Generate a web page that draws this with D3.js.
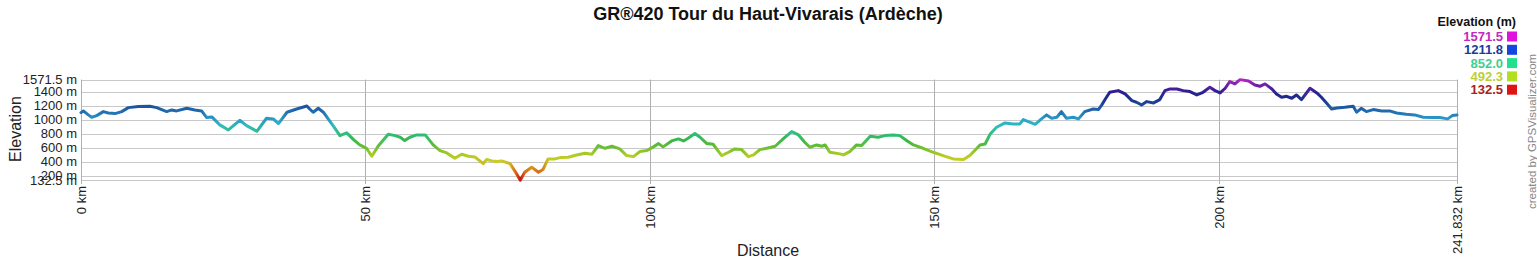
<!DOCTYPE html>
<html><head><meta charset="utf-8">
<script src="https://cdn.jsdelivr.net/npm/d3@7"></script>
<style>html,body{margin:0;padding:0;background:#fff;}svg{display:block;font-family:"Liberation Sans",Arial,sans-serif;}</style>
</head><body>
<script>
// ---- data ----
const titleText = "GR®420 Tour du Haut-Vivarais (Ardèche)";
const distanceKm = [0,0.41,1.29,1.87,2.75,3.93,4.8,5.98,7.15,8.32,10.07,12.13,13.3,15.06,15.94,16.8,18.6,20.0,21.2,22.1,23.0,24.4,25.9,27.9,29.1,30.9,32.6,33.8,34.7,36.2,37.9,39.7,40.2,40.8,41.7,42.6,44.3,45.5,46.7,47.9,49.0,50.2,51.1,52.2,54.0,55.2,56.1,56.9,57.8,59.0,60.5,
61.9,63.1,64.3,65.7,66.9,68.1,69.2,70.7,71.3,72.2,73.1,73.9,75.4,76.3,77.2,78.0,79.2,80.4,81.2,82.1,83.3,84.2,85.6,87.1,88.6,89.8,90.9,92.1,93.3,94.7,95.9,97.1,98.2,99.4,100.6,101.5,102.3,103.8,105.0,105.9,106.7,107.9,108.8,110.0,111.1,112.6,113.8,114.9,116.1,117.3,118.2,119.3,
120.5,122.0,123.4,124.9,126.1,127.2,128.1,129.3,130.2,130.8,131.6,133.4,134.0,135.1,136.3,137.2,138.7,140.1,141.3,142.8,143.9,145.1,146.3,148.0,149.8,151.5,153.3,155.1,156.2,158.0,158.9,159.8,160.9,162.4,163.8,165.0,165.6,166.5,167.7,168.8,169.7,170.6,171.5,172.3,173.2,174.4,175.3,176.4,177.9,178.8,179.4,
180.0,180.8,182.3,183.5,184.7,185.5,186.4,187.3,188.5,189.6,190.5,191.4,192.6,193.7,194.9,196.1,197.2,198.4,199.3,200.2,201.1,201.9,202.8,203.7,205.2,206.3,207.2,208.1,209.3,210.1,211.0,211.9,212.8,213.6,214.5,216.0,217.2,218.0,218.9,219.8,220.7,222.1,223.6,224.2,225.0,225.9,227.1,228.6,230.0,231.2,232.9,234.4,235.9,237.4,238.8,240.2,241.0,241.832];
const elevationM = [1100,1124,1067,1033,1057,1114,1095,1086,1114,1171,1186,1190,1171,1114,1138,1124,1162,1138,1124,1029,1038,924,852,990,914,833,1019,1010,943,1105,1152,1195,1152,1105,1162,1105,914,771,810,714,638,590,476,619,790,771,748,700,748,781,781,
638,557,524,448,505,476,467,371,429,410,400,410,371,257,133,248,319,248,286,438,438,457,462,495,519,505,629,590,619,581,486,471,543,557,610,657,610,695,724,695,733,800,748,657,648,486,533,581,571,471,495,571,
590,619,724,829,781,676,605,638,619,638,533,510,495,543,638,629,762,748,771,781,771,700,638,590,533,486,438,429,486,638,652,795,891,952,938,938,1000,971,933,1010,1067,1019,1033,1114,1019,1033,1010,1114,1152,1143,1210,
1290,1390,1414,1367,1271,1248,1210,1257,1238,1286,1414,1438,1438,1414,1400,1352,1390,1462,1414,1381,1448,1543,1510,1571,1552,1495,1476,1510,1438,1367,1319,1333,1305,1352,1286,1448,1381,1319,1238,1152,1167,1176,1190,1105,1162,1114,1143,1124,1124,1095,1076,1067,1033,1029,1029,1010,1057,1067];
const yTickValues = [132.5,200,400,600,800,1000,1200,1400,1571.5];
const yTickLabels = ["132.5 m","200 m","400 m","600 m","800 m","1000 m","1200 m","1400 m","1571.5 m"];
const xTickValues = [0,50,100,150,200,241.832];
const xTickLabels = ["0 km","50 km","100 km","150 km","200 km","241.832 km"];
const legendValues = [1571.5,1211.8,852.0,492.3,132.5];
const legendLabels = ["1571.5","1211.8","852.0","492.3","132.5"];

// ---- colour ramps (style) ----
const lineColorDomain = [132.5,250,400,492.3,600,700,800,900,1000,1100,1211.8,1300,1400,1500,1571.5];
const lineColorRange = ["#cc1111","#dd6a14","#cccc22","#b2cc22","#6cc030","#36b840","#2cbf80","#30c0bc","#2aa2cc","#2272b4","#1a4c9c","#1c2e8c","#2c1c92","#7422aa","#b624c4"];
const legendSwatch = ["#e012e0","#1446e0","#22e08e","#b2e020","#e01414"];
const legendText = ["#c02cc0","#1a3c9c","#3ecf92","#bccf36","#a82222"];

const W = 1537, H = 260;
const svg = d3.select("body").append("svg").attr("width", W).attr("height", H);

const x = d3.scaleLinear().domain([0, 241.832]).range([81, 1457]);
const y = d3.scaleLinear().domain([132.5, 1571.5]).range([180.3, 79.6]);
const col = d3.scaleLinear().domain(lineColorDomain).range(lineColorRange).interpolate(d3.interpolateRgb);

// title
svg.append("text").attr("x", 768).attr("y", 20).attr("text-anchor", "middle")
  .attr("font-size", 18).attr("font-weight", "bold").attr("fill", "#111").text(titleText);

// horizontal grid + y labels
const gy = svg.append("g");
gy.selectAll("line").data(yTickValues).join("line")
  .attr("x1", 81).attr("x2", 1457)
  .attr("y1", d => Math.round(y(d)) + 0.5).attr("y2", d => Math.round(y(d)) + 0.5)
  .attr("stroke", "#c8c8c8").attr("stroke-width", 1);
gy.selectAll("text").data(yTickValues).join("text")
  .attr("x", 77).attr("y", d => y(d)).attr("dy", "0.36em").attr("text-anchor", "end")
  .attr("font-size", 13).attr("fill", "#222").text((d, i) => yTickLabels[i]);

// vertical grid + x labels
const gx = svg.append("g");
gx.selectAll("line").data(xTickValues).join("line")
  .attr("x1", d => Math.round(x(d)) + 0.5).attr("x2", d => Math.round(x(d)) + 0.5)
  .attr("y1", 79.6).attr("y2", 184)
  .attr("stroke", "#b0b0b0").attr("stroke-width", 1);
gx.selectAll("text").data(xTickValues).join("text")
  .attr("transform", d => `translate(${x(d)},186) rotate(-90)`)
  .attr("dy", "0.36em").attr("text-anchor", "end")
  .attr("font-size", 13).attr("fill", "#222").text((d, i) => xTickLabels[i]);

// axis titles
svg.append("text").attr("transform", "translate(21,129) rotate(-90)").attr("text-anchor", "middle")
  .attr("font-size", 16).attr("fill", "#222").text("Elevation");
svg.append("text").attr("x", 768).attr("y", 256).attr("text-anchor", "middle")
  .attr("font-size", 16).attr("fill", "#222").text("Distance");

// gradient line
const pts = distanceKm.map((d, i) => ({d, e: elevationM[i]}));
const grad = svg.append("defs").append("linearGradient").attr("id", "eg")
  .attr("gradientUnits", "userSpaceOnUse").attr("x1", x(0)).attr("x2", x(241.832)).attr("y1", 0).attr("y2", 0);
grad.selectAll("stop").data(pts).join("stop")
  .attr("offset", p => (x(p.d) - x(0)) / (x(241.832) - x(0)))
  .attr("stop-color", p => col(p.e));
svg.append("path").datum(pts)
  .attr("d", d3.line().x(p => x(p.d)).y(p => y(p.e)))
  .attr("fill", "none").attr("stroke", "url(#eg)").attr("stroke-width", 3)
  .attr("stroke-linejoin", "round").attr("stroke-linecap", "round");

// legend
svg.append("text").attr("x", 1516).attr("y", 26).attr("text-anchor", "end")
  .attr("font-size", 12.5).attr("font-weight", "bold").attr("fill", "#111").text("Elevation (m)");
const lg = svg.append("g");
lg.selectAll("rect").data(legendValues).join("rect")
  .attr("x", 1507).attr("y", (d, i) => 31.5 + i * 13.3).attr("width", 10).attr("height", 10)
  .attr("fill", (d, i) => legendSwatch[i]);
lg.selectAll("text").data(legendValues).join("text")
  .attr("x", 1503).attr("y", (d, i) => 36.5 + i * 13.3).attr("dy", "0.36em").attr("text-anchor", "end")
  .attr("font-size", 13).attr("font-weight", "bold").attr("fill", (d, i) => legendText[i])
  .text((d, i) => legendLabels[i]);

// credit
svg.append("text").attr("transform", "translate(1536,209) rotate(-90)").attr("text-anchor", "start")
  .attr("font-size", 11.5).attr("fill", "#888").text("created by GPSVisualizer.com");
</script>
</body></html>
